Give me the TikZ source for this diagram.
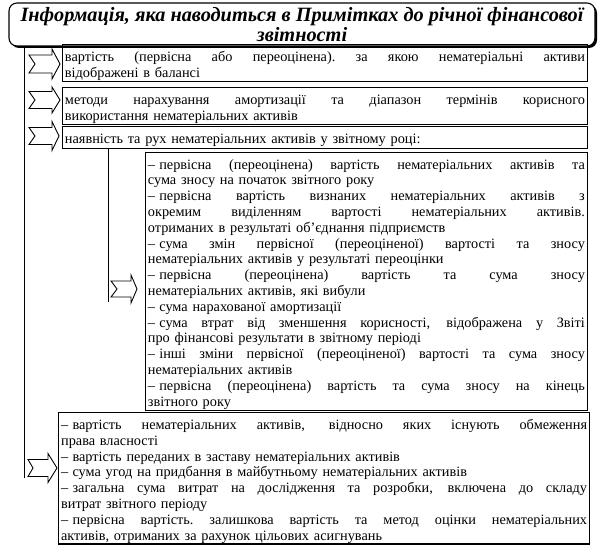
\documentclass[tikz,border=0pt]{standalone}
\usepackage{fontspec}
\setmainfont{Liberation Serif}
\usetikzlibrary{shadows}
\def\bw{520pt}
\newcommand\dsh{–\kern.3em\ignorespaces}
\newcommand\jline[1]{\par\noindent\hbox to \bw{\spaceskip=.25em plus 1fil\relax\xspaceskip=\spaceskip #1}\par}
\newcommand\lline[1]{\par\noindent\hbox to \bw{#1\hfil}\par}
\newcommand\barrow[7]{% x0, yc, notch x, head base x, tip x, body half, head half
  \draw[blk] (#1,#2-#6) -- (#4,#2-#6) -- (#4,#2-#7) -- (#5,#2) -- (#4,#2+#7)
    -- (#4,#2+#6) -- (#1,#2+#6) -- (#3,#2) -- cycle;}
\begin{document}
\begin{tikzpicture}[x=1pt,y=-1pt,
  box/.style={draw, line width=0.9pt, anchor=north west, inner xsep=2.5pt,
    inner ysep=1pt, text width=#1,
    font=\fontsize{14.3}{15.8}\selectfont},
  blk/.style={draw, line width=0.9pt, fill=white, line join=miter},
  vline/.style={line width=0.9pt}]
\useasboundingbox (0,0) rectangle (600,548);
\node[draw, line width=1.1pt, rounded corners=8pt, fill=white,
  drop shadow={shadow xshift=2pt, shadow yshift=-2pt, opacity=1, fill=black},
  minimum width=586pt, minimum height=43pt, inner sep=0pt, align=center,
  font=\fontsize{20.3}{19.5}\selectfont\bfseries\itshape] (title) at (302,24.5)
  {Інформація, яка наводиться в Примітках до річної фінансової\\звітності};
\coordinate (l1top) at (24,46);
\coordinate (l1bot) at (24,478);
\draw[vline] (l1top) -- (l1bot);
\node[box=520pt, minimum height=36pt] (b1) at (62,44)
  {\jline{вартість (первісна або переоцінена). за якою нематеріальні активи}
   \lline{відображені в балансі}};
\node[box=520pt, minimum height=33pt] (b2) at (62,87)
  {\jline{методи нарахування амортизації та діапазон термінів корисного}
   \lline{використання нематеріальних активів}};
\node[box=520pt, minimum height=22pt] (b3) at (62,126)
  {\lline{наявність та рух нематеріальних активів у звітному році:}};
\coordinate (l2top) at (108,148);
\coordinate (l2bot) at (108,302);
\draw[vline] (l2top) -- (l2bot);
\gdef\bw{437pt}
\node[box=437pt, minimum height=255pt, line width=0.8pt] (b4) at (145,152)
  {\jline{\dsh первісна (переоцінена) вартість нематеріальних активів та}
   \lline{сума зносу на початок звітного року}
   \jline{\dsh первісна вартість визнаних нематеріальних активів з}
   \jline{окремим виділенням вартості нематеріальних активів.}
   \lline{отриманих в результаті об'єднання підприємств}
   \jline{\dsh сума змін первісної (переоціненої) вартості та зносу}
   \lline{нематеріальних активів у результаті переоцінки}
   \jline{\dsh первісна (переоцінена) вартість та сума зносу}
   \lline{нематеріальних активів, які вибули}
   \lline{\dsh сума нарахованої амортизації}
   \jline{\dsh сума втрат від зменшення корисності, відображена у Звіті}
   \lline{про фінансові результати в звітному періоді}
   \jline{\dsh інші зміни первісної (переоціненої) вартості та сума зносу}
   \lline{нематеріальних активів}
   \jline{\dsh первісна (переоцінена) вартість та сума зносу на кінець}
   \lline{звітного року}};
\gdef\bw{526pt}
\node[box=526pt, minimum height=126pt, line width=1.2pt] (b5) at (58,412)
  {\jline{\dsh вартість нематеріальних активів, відносно яких існують обмеження}
   \lline{права власності}
   \lline{\dsh вартість переданих в заставу нематеріальних активів}
   \lline{\dsh сума угод на придбання в майбутньому нематеріальних активів}
   \jline{\dsh загальна сума витрат на дослідження та розробки, включена до складу}
   \lline{витрат звітного періоду}
   \jline{\dsh первісна вартість. залишкова вартість та метод оцінки нематеріальних}
   \lline{активів, отриманих за рахунок цільових асигнувань}};
\barrow{29}{64}{35}{52}{60}{9}{15}
\barrow{29}{100}{35}{52}{60}{8.5}{13}
\barrow{29}{136}{35}{52}{59}{8.5}{14.5}
\barrow{111}{289}{117}{131}{137}{8}{14}
\barrow{28}{468}{33}{48}{57}{8.5}{14.5}
\end{tikzpicture}
\end{document}
